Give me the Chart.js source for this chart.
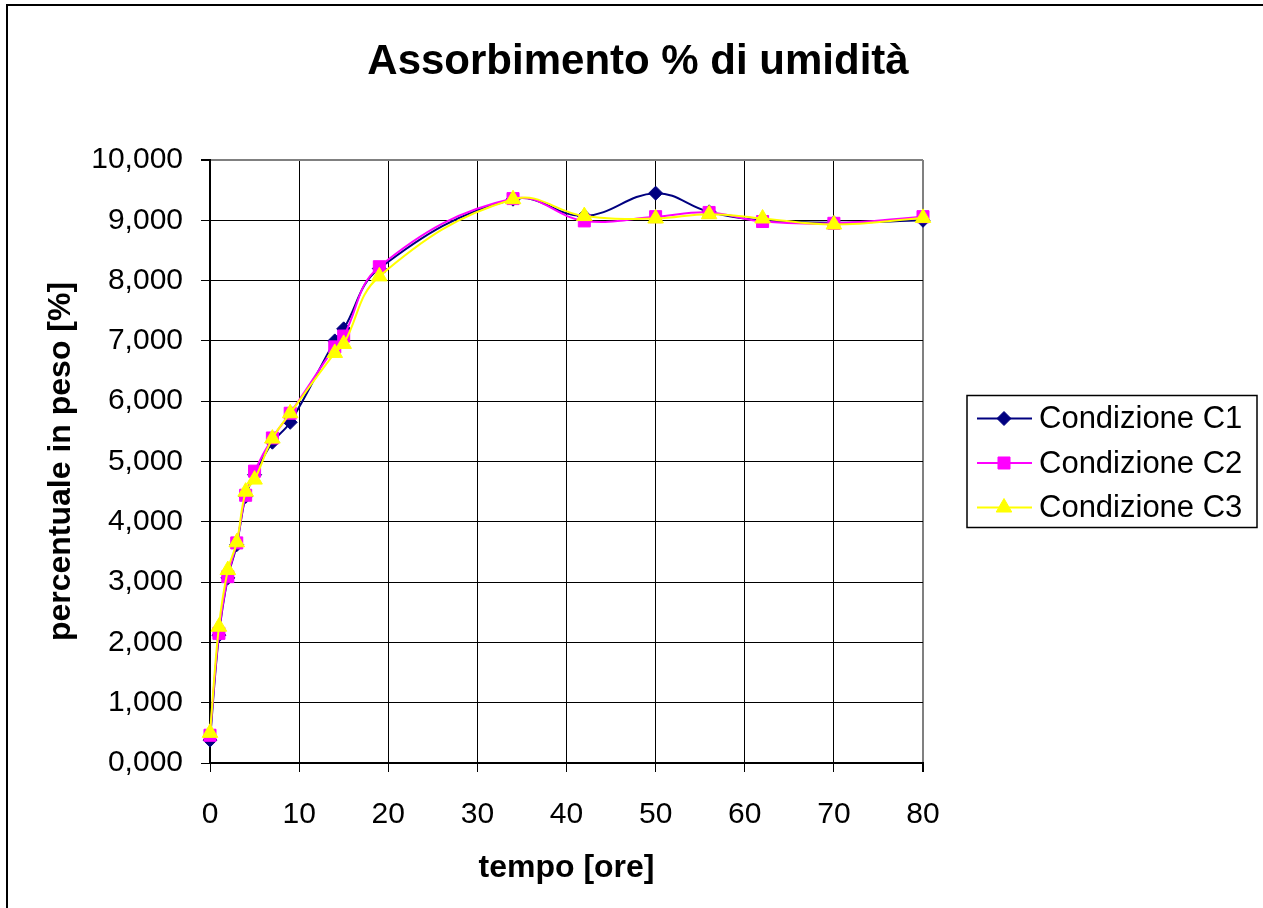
<!DOCTYPE html>
<html>
<head>
<meta charset="utf-8">
<script src="https://cdn.jsdelivr.net/npm/chart.js@4/dist/chart.umd.min.js"></script>
<style>
    html, body { margin: 0; padding: 0; background: #fff; }
    #wrap { width: 1263px; height: 908px; position: relative; }
</style>
</head>
<body>
<div id="wrap"><canvas id="myChart-umidita"></canvas></div>
<script>
// tempo [ore]
var ore = [0, 1, 2, 3, 4, 5, 7, 9, 14, 15, 19, 34, 42, 50, 56, 62, 70, 80];

// assorbimento %
var condC1 = [0.38, 2.12, 3.07, 3.62, 4.42, 4.78, 5.32, 5.65, 7.00, 7.20, 8.20, 9.35, 9.07, 9.45, 9.14, 9.00, 8.96, 9.00];
var condC2 = [0.46, 2.15, 3.09, 3.65, 4.44, 4.84, 5.39, 5.80, 6.90, 7.08, 8.23, 9.36, 8.99, 9.06, 9.13, 8.98, 8.95, 9.06];
var condC3 = [0.50, 2.26, 3.20, 3.66, 4.50, 4.70, 5.38, 5.80, 6.80, 6.95, 8.07, 9.35, 9.07, 9.03, 9.10, 9.03, 8.93, 9.04];

var nomiSerie = ['Condizione C1', 'Condizione C2', 'Condizione C3'];
var coloriSerie = ['#000080', '#ff00ff', '#ffff00'];

var FONT = "'Liberation Sans', Arial, sans-serif";

function punti(valori) {
    return ore.map(function (t, i) { return { x: t, y: valori[i] }; });
}

// marker per la legenda
function disegnaMarker(ctx, stile, x, y, r, colore) {
    ctx.save();
    ctx.fillStyle = colore;
    ctx.strokeStyle = colore;
    ctx.lineWidth = 1;
    ctx.beginPath();
    if (stile === 'rectRot') {
        ctx.moveTo(x, y - r); ctx.lineTo(x + r, y); ctx.lineTo(x, y + r); ctx.lineTo(x - r, y);
    } else if (stile === 'rect') {
        var s = r * Math.SQRT1_2;
        ctx.rect(x - s, y - s, 2 * s, 2 * s);
    } else {
        ctx.moveTo(x, y - r);
        ctx.lineTo(x + r * 0.866, y + r * 0.5);
        ctx.lineTo(x - r * 0.866, y + r * 0.5);
    }
    ctx.closePath();
    ctx.fill();
    ctx.stroke();
    ctx.restore();
}

// legenda laterale come box del layout (larghezza fissa)
var legendaLaterale = {
    id: 'legendaLaterale',
    beforeInit: function (chart) {
        var box = {
            position: 'right',
            weight: 10,
            fullSize: false,
            options: {},
            isHorizontal: function () { return false; },
            update: function (maxWidth, maxHeight) {
                this.width = 340;
                this.height = maxHeight;
            },
            draw: function () {
                var ctx = chart.ctx;
                var area = chart.chartArea;
                var x0 = this.left + 44;
                var y0 = (area.top + area.bottom) / 2 - 66;
                ctx.save();
                ctx.lineWidth = 1.5;
                ctx.strokeStyle = '#000';
                ctx.strokeRect(x0, y0, 290, 132);
                ctx.font = '31px ' + FONT;
                ctx.textBaseline = 'middle';
                ctx.textAlign = 'left';
                chart.data.datasets.forEach(function (ds, i) {
                    var yy = y0 + 23 + i * 44.5;
                    ctx.beginPath();
                    ctx.strokeStyle = ds.borderColor;
                    ctx.lineWidth = 2;
                    ctx.moveTo(x0 + 10, yy);
                    ctx.lineTo(x0 + 65, yy);
                    ctx.stroke();
                    disegnaMarker(ctx, ds.pointStyle, x0 + 37, yy, ds.pointRadius, ds.borderColor);
                    ctx.fillStyle = '#000';
                    ctx.fillText(ds.label, x0 + 72, yy + 1);
                });
                ctx.restore();
            }
        };
        Chart.layouts.addBox(chart, box);
    }
};

// cornice esterna (bordo sinistro e superiore)
var cornice = {
    id: 'cornice',
    afterDraw: function (chart) {
        var ctx = chart.ctx;
        ctx.save();
        ctx.strokeStyle = '#000';
        ctx.lineWidth = 2;
        ctx.beginPath();
        ctx.moveTo(7, 912);
        ctx.lineTo(7, 5);
        ctx.lineTo(1266, 5);
        ctx.stroke();
        ctx.restore();
    }
};

var dataUmidita = {
    datasets: [
        {
            label: nomiSerie[0],
            data: punti(condC1),
            borderColor: coloriSerie[0],
            backgroundColor: coloriSerie[0],
            pointStyle: 'rectRot',
            pointRadius: 7,
            order: 2
        },
        {
            label: nomiSerie[1],
            data: punti(condC2),
            borderColor: coloriSerie[1],
            backgroundColor: coloriSerie[1],
            pointStyle: 'rect',
            pointRadius: 8.5,
            order: 1
        },
        {
            label: nomiSerie[2],
            data: punti(condC3),
            borderColor: coloriSerie[2],
            backgroundColor: coloriSerie[2],
            pointStyle: 'triangle',
            pointRadius: 9,
            order: 0
        }
    ]
};

var chartUmidita = document.getElementById('myChart-umidita');
new Chart(chartUmidita, {
    type: 'line',
    data: dataUmidita,
    plugins: [legendaLaterale, cornice],
    options: {
        responsive: true,
        maintainAspectRatio: false,
        animation: false,
        clip: false,
        layout: { padding: { left: 13, right: 0, top: 0, bottom: 0 } },
        elements: {
            line: { borderWidth: 2, tension: 0.4, fill: false },
            point: { borderWidth: 1, hoverRadius: 9 }
        },
        plugins: {
            legend: { display: false },
            tooltip: { enabled: false },
            title: {
                display: true,
                text: 'Assorbimento % di umidità',
                color: '#000',
                font: { family: FONT, size: 42, weight: 'bold' },
                padding: { top: 36.8, bottom: 72.8 }
            }
        },
        scales: {
            x: {
                type: 'linear',
                min: 0,
                max: 80,
                afterFit: function (scale) { scale.height = 145; },
                ticks: {
                    stepSize: 10,
                    color: '#000',
                    padding: 25,
                    maxRotation: 0,
                    font: { family: FONT, size: 30 }
                },
                grid: {
                    color: function (ctx) { return ctx.tick && ctx.tick.value === 80 ? '#808080' : '#000'; },
                    tickColor: '#000',
                    lineWidth: function (ctx) { return ctx.tick && ctx.tick.value === 80 ? 2 : 1; },
                    tickLength: 9
                },
                border: { color: '#000', width: 2 },
                title: {
                    display: true,
                    text: 'tempo [ore]',
                    color: '#000',
                    font: { family: FONT, size: 32, weight: 'bold' },
                    padding: { top: 0, bottom: 20.8 }
                }
            },
            y: {
                min: 0,
                max: 10,
                afterFit: function (scale) { scale.width = 197; },
                ticks: {
                    stepSize: 1,
                    color: '#000',
                    padding: 18,
                    font: { family: FONT, size: 30 },
                    callback: function (v) { return v.toFixed(3).replace('.', ','); }
                },
                grid: {
                    color: function (ctx) { return ctx.tick && ctx.tick.value === 10 ? '#808080' : '#000'; },
                    tickColor: '#000',
                    lineWidth: function (ctx) { return ctx.tick && ctx.tick.value === 10 ? 2 : 1; },
                    tickLength: 9
                },
                border: { color: '#000', width: 2 },
                title: {
                    display: true,
                    text: 'percentuale in peso [%]',
                    color: '#000',
                    font: { family: FONT, size: 32, weight: 'bold' },
                    padding: { top: 28.8, bottom: 0 }
                }
            }
        }
    }
});
</script>
</body>
</html>
